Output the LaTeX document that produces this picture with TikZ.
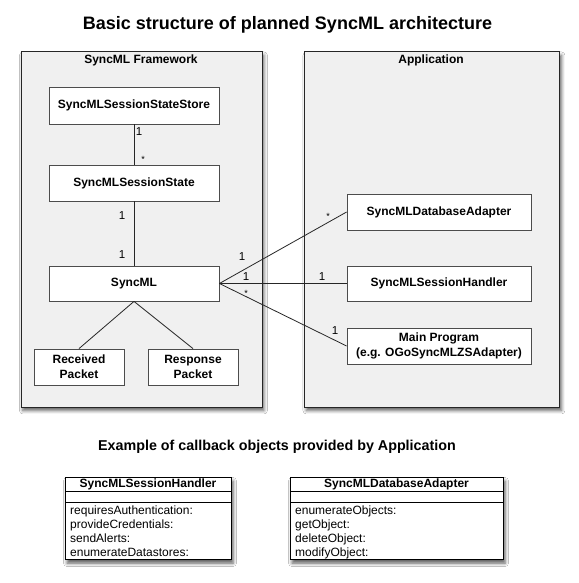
\documentclass[tikz,border=0pt]{standalone}
\usepackage{fontspec}
\setmainfont{Liberation Sans}
\usetikzlibrary{shadows.blur,calc}
\begin{document}
\begin{tikzpicture}[x=1pt,y=-1pt,
  frame/.style={draw=black!85, line width=0.9pt, fill=black!6, anchor=north west,
    blur shadow={shadow xshift=2pt, shadow yshift=-3.5pt, shadow blur radius=3.5pt, shadow opacity=65}},
  comp/.style={draw=black!70, line width=0.8pt, fill=white, align=center, inner sep=0pt,
    font=\fontsize{12}{15}\selectfont\bfseries},
  clsbox/.style={draw=black, line width=1pt, fill=white, anchor=north west, inner sep=0pt,
    blur shadow={shadow xshift=1.5pt, shadow yshift=-3.5pt, shadow blur radius=3.5pt, shadow opacity=65}},
  lbl/.style={font=\fontsize{12}{14}\selectfont\bfseries, inner sep=0pt, anchor=base},
  mult/.style={font=\fontsize{11.5}{13}\selectfont, inner sep=0pt},
  star/.style={font=\fontsize{9}{10}\selectfont, inner sep=0pt},
  meth/.style={font=\fontsize{12}{14}\selectfont, inner sep=0pt, anchor=base west},
  conn/.style={draw=black!85, line width=0.8pt}
]
\useasboundingbox (0,0) rectangle (578,583);
\fill[white] (0,0) rectangle (578,583);

% titles
\node[font=\fontsize{18}{20}\selectfont\bfseries, inner sep=0pt, anchor=base] (title) at (287.5,30) {Basic structure of planned SyncML architecture};
\node[font=\fontsize{14.3}{16}\selectfont\bfseries, inner sep=0pt, anchor=base] (subtitle) at (277,450) {Example of callback objects provided by Application};

% frames
\node[frame, minimum width=241pt, minimum height=355pt] (fw) at (20.5,51.5) {};
\node[frame, minimum width=255pt, minimum height=355pt] (app) at (304,51.5) {};
\node[lbl] (fwlbl) at (141,64) {SyncML Framework};
\node[lbl] (applbl) at (431,64) {Application};

% framework components
\node[comp, minimum width=170pt, minimum height=37pt] (store) at (134,105.5) {SyncMLSessionStateStore};
\node[comp, minimum width=170pt, minimum height=36pt] (state) at (134,183) {SyncMLSessionState};
\node[comp, minimum width=170pt, minimum height=35pt] (sync) at (134,283.5) {SyncML};
\node[comp, minimum width=90pt, minimum height=36pt] (recv) at (79,367) {Received\\Packet};
\node[comp, minimum width=90pt, minimum height=36pt] (resp) at (193,367) {Response\\Packet};

% application components
\node[comp, minimum width=184pt, minimum height=36pt] (dba) at (439,212) {SyncMLDatabaseAdapter};
\node[comp, minimum width=184pt, minimum height=35pt] (sh) at (439,283.5) {SyncMLSessionHandler};
\node[comp, minimum width=184pt, minimum height=36pt] (mainp) at (439,346) {Main Program\\(e.g. OGoSyncMLZSAdapter)};

% connectors
\draw[conn] (store.south) -- (state.north);
\draw[conn] (state.south) -- (sync.north);
\draw[conn] (sync.south) -- (recv.north);
\draw[conn] (sync.south) -- (resp.north);
\draw[conn] (sync.east) -- (dba.west);
\draw[conn] (sync.east) -- (sh.west);
\draw[conn] (sync.east) -- (mainp.west);

% multiplicities
\node[mult] (m1) at (139,132) {1};
\node[star] (m2) at (143,159) {*};
\node[mult] (m3) at (122,216) {1};
\node[mult] (m4) at (122,255) {1};
\node[mult] (m5) at (242,257) {1};
\node[mult] (m6) at (246,277) {1};
\node[star] (m7) at (246,293) {*};
\node[star] (m8) at (328,216) {*};
\node[mult] (m9) at (322,277) {1};
\node[mult] (m10) at (335,331) {1};

% class boxes
\node[clsbox, minimum width=166pt, minimum height=82pt] (c1) at (65,477) {};
\draw[line width=1pt] ($(c1.north west)+(0,14)$) -- ($(c1.north east)+(0,14)$);
\draw[line width=1pt] ($(c1.north west)+(0,25)$) -- ($(c1.north east)+(0,25)$);
\node[lbl] (c1h) at (148,487.7) {SyncMLSessionHandler};
\node[meth] (c1a) at (70,514) {requiresAuthentication:};
\node[meth] (c1b) at (70,528) {provideCredentials:};
\node[meth] (c1c) at (70,542) {sendAlerts:};
\node[meth] (c1d) at (70,556) {enumerateDatastores:};

\node[clsbox, minimum width=213pt, minimum height=82pt] (c2) at (290,477) {};
\draw[line width=1pt] ($(c2.north west)+(0,14)$) -- ($(c2.north east)+(0,14)$);
\draw[line width=1pt] ($(c2.north west)+(0,25)$) -- ($(c2.north east)+(0,25)$);
\node[lbl] (c2h) at (396.5,487.7) {SyncMLDatabaseAdapter};
\node[meth] (c2a) at (295,514) {enumerateObjects:};
\node[meth] (c2b) at (295,528) {getObject:};
\node[meth] (c2c) at (295,542) {deleteObject:};
\node[meth] (c2d) at (295,556) {modifyObject:};
\end{tikzpicture}
\end{document}
